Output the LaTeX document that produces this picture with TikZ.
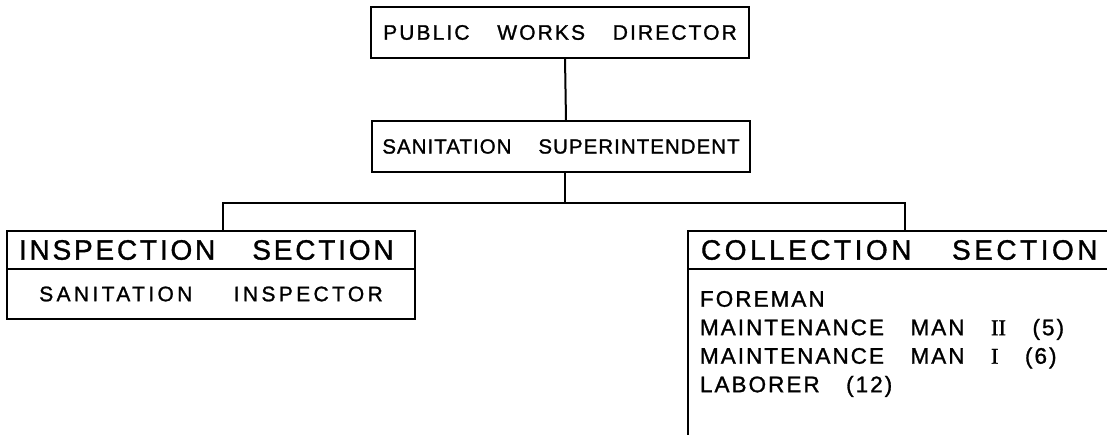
\documentclass[tikz,border=0pt]{standalone}
\usepackage{fontspec}
\newfontfamily\lettA[LetterSpace=10,WordSpace=3.5,FakeBold=1.2]{Liberation Sans}
\newfontfamily\lettB[LetterSpace=5,WordSpace=4,FakeBold=1.2]{Liberation Sans}
\newfontfamily\lettC[LetterSpace=9,WordSpace=3.2,FakeBold=1.2]{Liberation Sans}
\newfontfamily\lettD[LetterSpace=16,WordSpace=4.5,FakeBold=1.2]{Liberation Sans}
\newfontfamily\lettE[LetterSpace=12.5,WordSpace=3.6,FakeBold=1.2]{Liberation Sans}
\newfontfamily\romnum[FakeBold=1.2]{Liberation Serif}
\begin{document}
\begin{tikzpicture}[x=1pt,y=-1pt,line width=2pt,
  frame/.style={draw,inner sep=0pt,outer sep=0pt},
  txtA/.style={font=\lettA\fontsize{21}{22}\selectfont},
  txtB/.style={font=\lettB\fontsize{20.5}{22}\selectfont},
  txtD/.style={font=\lettD\fontsize{21}{22}\selectfont},
  txtH/.style={font=\lettA\fontsize{28}{30}\selectfont},
  txtHC/.style={font=\lettE\fontsize{28}{30}\selectfont},
  conn/.style={line width=2pt}]
\useasboundingbox (0,0) rectangle (1107,435);
\node[frame,txtA,minimum width=378pt,minimum height=51pt] (pwd) at (560,32.5) {PUBLIC WORKS DIRECTOR};
\node[frame,txtB,minimum width=378pt,minimum height=51pt] (ss) at (561,146.5) {SANITATION SUPERINTENDENT};
\coordinate (busL) at (223,203);
\coordinate (busR) at (905,203);
\node[frame,minimum width=408pt,minimum height=38pt] (insph) at (211,250) {};
\node[txtH,anchor=west,inner sep=0pt] (inspt) at (18,250) {INSPECTION SECTION};
\node[frame,txtD,minimum width=408pt,minimum height=50pt,anchor=north] (inspb) at (insph.south) {SANITATION INSPECTOR};
\node[frame,minimum width=440pt,minimum height=38pt,anchor=north west] (collh) at (688,231) {};
\node[txtHC,anchor=west,inner sep=0pt] (collt) at (700,250) {COLLECTION SECTION};
\coordinate (collend) at (688,440);
\node[anchor=north west,inner sep=0pt,align=left,font=\lettC\fontsize{22.5}{28.5}\selectfont] (collb) at (699,290)
  {FOREMAN\\MAINTENANCE MAN {\romnum II} (5)\\MAINTENANCE MAN {\romnum I} (6)\\LABORER (12)};
\draw[conn] ([xshift=5pt]pwd.south) -- ([xshift=5pt]ss.north);
\draw[conn] ([xshift=4pt]ss.south) -- ([xshift=4pt]ss.south |- busL);
\draw[conn] (insph.north -| busL) -- (busL) -- (busR) -- (collh.north -| busR);
\draw[conn] (collh.south west) -- (collend);
\end{tikzpicture}
\end{document}
